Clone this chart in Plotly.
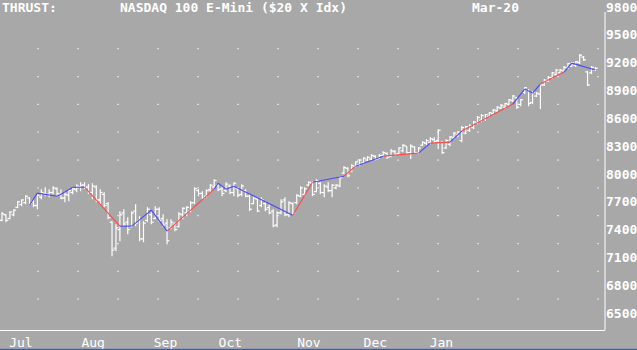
import plotly.graph_objects as go

# ---------------- data ----------------
highs = [7590,7566,7599,7620,7706,7728,7771,7750,7728,7782,
 7836,7857,7836,7868,7857,7836,7814,7836,7857,7890,
 7911,7911,7890,7900,7879,7836,7804,7696,7491,7458,
 7599,7620,7534,7599,7674,7545,7491,7642,7588,7652,
 7642,7566,7512,7512,7480,7588,7642,7652,7706,7857,
 7836,7814,7836,7890,7944,7890,7868,7911,7890,7911,
 7857,7890,7836,7782,7760,7750,7750,7696,7674,7620,
 7599,7728,7750,7706,7696,7782,7868,7857,7922,7922,
 7944,7911,7890,7911,7890,7890,7976,8084,8073,8106,
 8138,8160,8181,8192,8214,8203,8214,8246,8235,8268,
 8257,8289,8321,8300,8321,8300,8289,8354,8375,8397,
 8397,8483,8354,8375,8408,8451,8462,8516,8516,8537,
 8570,8624,8645,8645,8667,8699,8731,8753,8764,8807,
 8850,8829,8807,8936,8915,8893,8883,8969,9023,9055,
 9098,9131,9131,9163,9195,9206,9217,9293,9271,9109,
 9163,9152]

lows = [7491,7480,7512,7545,7631,7652,7674,7663,7642,7620,
 7728,7760,7750,7782,7760,7728,7696,7706,7782,7804,
 7814,7836,7782,7728,7696,7674,7642,7512,7113,7167,
 7275,7437,7350,7426,7437,7275,7264,7480,7458,7512,
 7480,7426,7243,7404,7383,7426,7512,7545,7588,7674,
 7760,7728,7750,7804,7836,7814,7760,7804,7782,7760,
 7750,7760,7750,7599,7674,7588,7642,7599,7566,7426,
 7426,7566,7545,7534,7555,7674,7750,7760,7868,7760,
 7804,7782,7750,7804,7750,7836,7857,7998,7965,8019,
 8073,8084,8106,8138,8138,8149,8160,8181,8160,8181,
 8192,8203,8235,8214,8160,8214,8214,8300,8311,8321,
 8332,8268,8214,8268,8300,8375,8397,8343,8429,8451,
 8483,8537,8559,8570,8613,8634,8667,8699,8699,8731,
 8775,8699,8731,8861,8731,8753,8829,8699,8947,8990,
 9023,9055,9077,9098,9131,9152,9152,9185,9217,8947,
 9077,9109]

opens = [7500,7560,7520,7560,7640,7670,7690,7740,7700,7660,
 7750,7790,7780,7800,7840,7780,7740,7770,7800,7830,
 7860,7880,7860,7800,7860,7720,7780,7680,7480,7200,
 7400,7580,7480,7430,7600,7500,7300,7500,7560,7520,
 7620,7520,7470,7420,7460,7430,7560,7580,7600,7690,
 7820,7790,7760,7830,7860,7880,7840,7820,7870,7800,
 7840,7780,7820,7760,7680,7730,7660,7680,7640,7600,
 7450,7580,7720,7560,7680,7690,7760,7780,7880,7900,
 7810,7900,7800,7860,7820,7850,7870,8010,8060,8030,
 8080,8100,8120,8150,8160,8190,8170,8200,8220,8190,
 8240,8220,8250,8300,8230,8290,8230,8310,8330,8340,
 8370,8360,8340,8280,8320,8390,8420,8360,8440,8470,
 8500,8550,8580,8590,8620,8650,8680,8710,8720,8750,
 8790,8820,8750,8880,8900,8770,8840,8860,8960,9000,
 9040,9070,9090,9110,9140,9160,9170,9200,9260,9100,
 9090,9120]

closes = [7570,7500,7590,7610,7700,7720,7760,7680,7660,7770,
 7800,7780,7800,7850,7790,7740,7780,7820,7840,7870,
 7880,7850,7800,7870,7720,7800,7660,7530,7180,7420,
 7560,7460,7400,7580,7470,7300,7470,7620,7480,7620,
 7500,7450,7280,7480,7400,7570,7630,7640,7690,7840,
 7790,7740,7820,7880,7930,7830,7790,7890,7800,7900,
 7770,7870,7760,7620,7740,7600,7720,7620,7580,7440,
 7580,7700,7560,7690,7580,7770,7850,7840,7910,7780,
 7930,7800,7870,7820,7880,7880,7960,8070,7980,8090,
 8130,8150,8170,8180,8200,8160,8200,8230,8180,8250,
 8210,8280,8310,8230,8300,8230,8280,8340,8360,8380,
 8350,8470,8230,8360,8400,8440,8450,8500,8510,8520,
 8560,8610,8630,8640,8660,8690,8720,8740,8760,8800,
 8840,8720,8800,8930,8760,8880,8870,8960,9010,9040,
 9090,9120,9120,9150,9190,9200,9210,9280,9230,8960,
 9150,9140]

# swing ("thrust") line: bar index, value, colour of each segment
swing_idx = [7, 9, 14, 15, 18, 21, 30, 33, 38, 42, 54, 55, 57, 59, 74, 79, 87, 90,
             97, 106, 109, 114, 117, 130, 133, 135, 137, 143, 145, 151]
swing_val = [7663, 7793, 7760, 7782, 7857, 7857, 7437, 7437, 7610, 7383, 7836, 7900,
             7836, 7868, 7555, 7911, 7976, 8084, 8192, 8225, 8332, 8343, 8462, 8753,
             8915, 8872, 8969, 9098, 9195, 9120]
swing_dir = ["b", "b", "b", "b", "b", "r", "b", "b", "b", "r", "b", "b", "b", "b",
             "r", "b", "r", "b", "r", "b", "r", "b", "r", "b", "b", "b", "r", "b", "b"]

month_labels = ["Jul", "Aug", "Sep", "Oct", "Nov", "Dec", "Jan"]
month_pos = [4.8, 23.2, 41.6, 58.1, 78.1, 95.0, 111.8]

price_ticks = [6500, 6800, 7100, 7400, 7700, 8000, 8300, 8600, 8900, 9200, 9500, 9800]

# ---------------- figure ----------------
BG = "#a8a8a8"
FONT = "DejaVu Sans Mono"
W, H = 637, 350
ML, MR, MT, MB = 0, 32, 0, 20
PW, PH = W - ML - MR, H - MT - MB
XR = [-0.509, 153.44]
YR = [6318.0, 9853.6]
TICK = 0.6  # open/close tick length in bar units

n = len(closes)

fig = go.Figure()

# grid dots
px_per_bar = PW / (XR[1] - XR[0])
dot_x, dot_y = [], []
for k in range(15):
    xv = XR[0] + (38 + 40 * k) / px_per_bar
    for t in price_ticks[:-2]:
        dot_x.append(xv)
        dot_y.append(t + 150)
fig.add_trace(go.Scatter(x=dot_x, y=dot_y, mode="markers",
                         marker=dict(color="white", size=1.2, symbol="square", line=dict(width=0)),
                         hoverinfo="skip", showlegend=False))

# OHLC bars (vertical range + left open tick + right close tick)
bx, by = [], []
for i in range(n):
    bx += [i, i, None, i - TICK, i, None, i, i + TICK, None]
    by += [lows[i], highs[i], None, opens[i], opens[i], None, closes[i], closes[i], None]
fig.add_trace(go.Scatter(x=bx, y=by, mode="lines", line=dict(color="white", width=1.2),
                         hoverinfo="skip", showlegend=False))

for code, col in (("b", "#4a4aff"), ("r", "#ff4a4a")):
    lx, ly = [], []
    for i, d in enumerate(swing_dir):
        if d == code:
            lx += [swing_idx[i], swing_idx[i + 1], None]
            ly += [swing_val[i], swing_val[i + 1], None]
    fig.add_trace(go.Scatter(x=lx, y=ly, mode="lines", line=dict(color=col, width=1.1),
                             hoverinfo="skip", showlegend=False))

def ann(text, px, bold=True):
    return dict(text=text, x=px / PW, y=1 - 6 / PH, xref="paper", yref="paper",
                xanchor="left", yanchor="middle", showarrow=False,
                font=dict(family=FONT, size=13, color="white", weight="bold" if bold else "normal"))

fig.update_layout(
    width=W, height=H, margin=dict(l=ML, r=MR, t=MT, b=MB),
    paper_bgcolor=BG, plot_bgcolor=BG, showlegend=False,
    xaxis=dict(range=XR, showgrid=False, zeroline=False,
               showline=True, linecolor="white", linewidth=1,
               tickvals=month_pos, ticktext=month_labels, ticks="",
               tickfont=dict(family=FONT, size=13, color="white")),
    yaxis=dict(range=YR, side="right", showgrid=False, zeroline=False,
               showline=False, ticklabeloverflow="allow",
               tickvals=price_ticks, ticktext=[str(v) for v in price_ticks], ticks="",
               tickfont=dict(family=FONT, size=13, color="white", weight="bold")),
    annotations=[ann("THRUST:", 0), ann("NASDAQ 100 E-Mini ($20 X Idx)", 118), ann("Mar-20", 470)],
    shapes=[
        dict(type="line", xref="paper", yref="paper", x0=1, x1=1,
             y0=0, y1=1 - 10 / PH, line=dict(color="white", width=1)),
        dict(type="line", xref="paper", yref="paper", x0=0, x1=W / PW,
             y0=-(H - PH - 0.5) / PH, y1=-(H - PH - 0.5) / PH,
             line=dict(color="#1f4fd0", width=1)),
    ],
)

fig.write_html("out.html")
